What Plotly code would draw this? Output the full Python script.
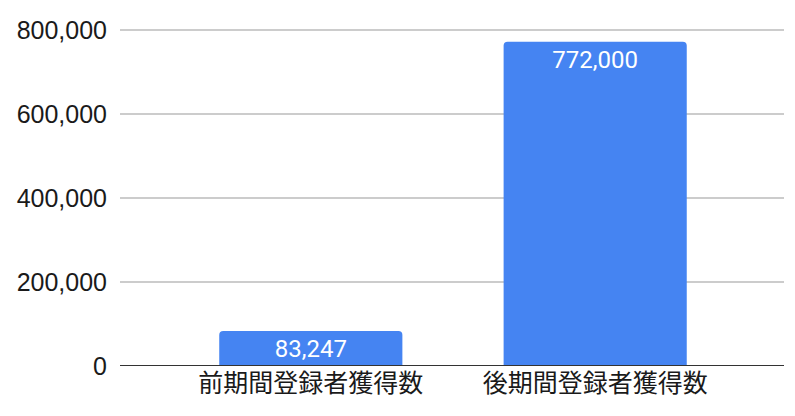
import plotly.graph_objects as go

categories = ["前期間登録者獲得数", "後期間登録者獲得数"]
values = [83247, 772000]
tick_vals = [0, 200000, 400000, 600000, 800000]
tick_text = ["0", "200,000", "400,000", "600,000", "800,000"]

fig = go.Figure()
fig.add_trace(go.Bar(
    x=[0, 1],
    y=values,
    width=0.644,
    marker=dict(color="#4584f2", cornerradius=4, line=dict(width=0)),
    text=[f"{v:,}" for v in values],
    textposition="inside",
    insidetextanchor="end",
    textangle=0,
    textfont=dict(family="Roboto, Arial, sans-serif", size=24, color="white"),
    cliponaxis=False,
))

# page body adds an 8px offset, so margins are shifted to compensate
fig.update_layout(
    width=795, height=416,
    margin=dict(l=112, r=19, t=20, b=58, autoexpand=False),
    paper_bgcolor="white", plot_bgcolor="white",
    showlegend=False,
    font=dict(family="Liberation Sans, Arial, sans-serif", size=25, color="#1a1a1a"),
    uniformtext=dict(minsize=24, mode="show"),
)
fig.update_xaxes(
    range=[-0.671, 1.664],
    tickvals=[0, 1], ticktext=categories,
    tickfont=dict(family="Noto Sans CJK JP, sans-serif", size=25, color="#1a1a1a"),
    showgrid=False, zeroline=False, showline=False, ticks="", automargin=False,
)
fig.update_yaxes(
    range=[0, 805000],
    tickvals=tick_vals, ticktext=tick_text,
    gridcolor="#cccccc", gridwidth=1.5,
    zeroline=False, showline=False, ticks="", ticklabelstandoff=12, automargin=False,
)
# baseline at zero
fig.add_shape(type="line", xref="paper", yref="y", x0=0, x1=1, y0=0, y1=0,
              line=dict(color="#333333", width=2), layer="above")

fig.write_html("out.html")
